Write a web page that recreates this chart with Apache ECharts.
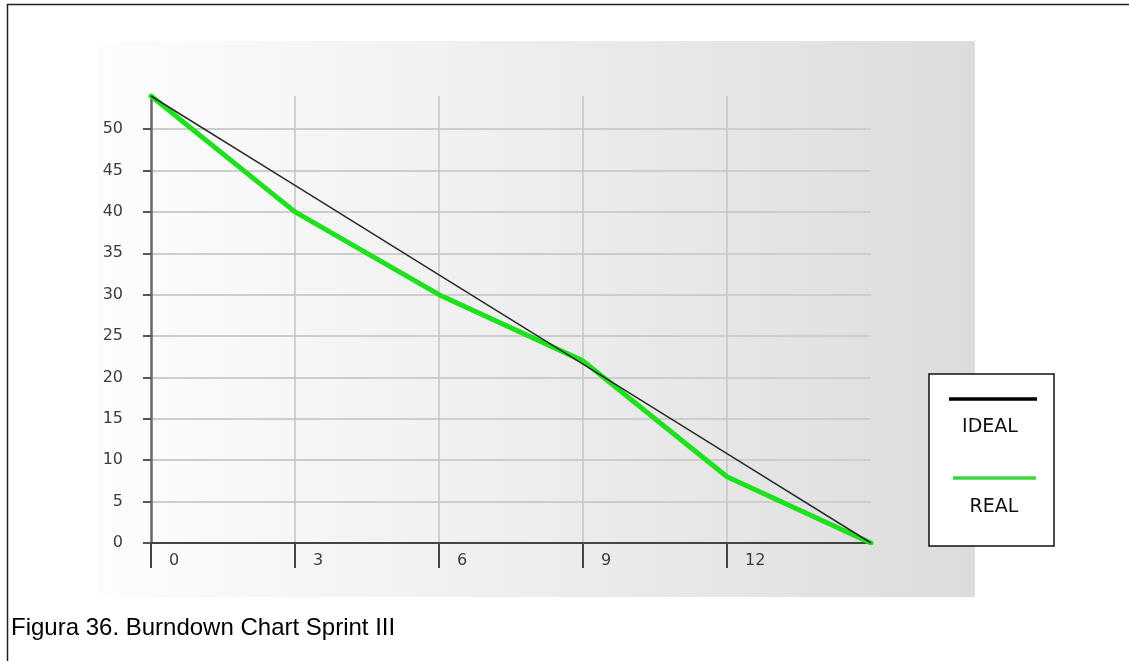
<!DOCTYPE html>
<html>
<head>
<meta charset="utf-8">
<script src="https://cdn.jsdelivr.net/npm/echarts@6/dist/echarts.min.js"></script>
<style>
html,body{margin:0;padding:0;background:#fff;}
#chart{width:1129px;height:661px;}
</style>
</head>
<body>
<div id="chart"></div>
<script>
// ---- data ----
const days = [0, 3, 6, 9, 12, 15];
const idealValues = [54, 43.2, 32.4, 21.6, 10.8, 0];
const realValues = [54, 40, 30, 22, 8, 0];
const xTickLabels = [0, 3, 6, 9, 12];
const yTickLabels = [0, 5, 10, 15, 20, 25, 30, 35, 40, 45, 50];
const seriesNames = ['IDEAL', 'REAL'];
const caption = 'Figura 36. Burndown Chart Sprint III';

const idealColor = '#2a2a2a';
const realColor = '#1fe01f';

const chart = echarts.init(document.getElementById('chart'), null, {renderer: 'canvas'});

const labelFont = {fontFamily: 'DejaVu Sans', fontSize: 16, color: '#3c3c3c'};

chart.setOption({
  animation: false,
  backgroundColor: '#ffffff',
  grid: {left: 151, right: 258, top: 96, bottom: 118, containLabel: false},
  xAxis: {
    type: 'value', min: 0, max: 15, interval: 3,
    axisLine: {show: true, lineStyle: {color: '#444', width: 2}},
    axisTick: {show: true, length: 25, customValues: xTickLabels, lineStyle: {color: '#444', width: 2}},
    axisLabel: Object.assign({customValues: xTickLabels, align: 'left', padding: [0, 0, 0, 18], margin: 10}, labelFont),
    splitLine: {show: true, showMinLine: false, showMaxLine: true, lineStyle: {color: '#c4c4c4', width: 1.5}}
  },
  yAxis: {
    type: 'value', min: 0, max: 54, interval: 5,
    axisLine: {show: true, lineStyle: {color: '#666', width: 2.5}},
    axisTick: {show: true, length: 8, customValues: yTickLabels, lineStyle: {color: '#555', width: 2}},
    axisLabel: Object.assign({customValues: yTickLabels, margin: 28}, labelFont),
    splitLine: {show: true, showMinLine: false, showMaxLine: true, lineStyle: {color: '#cdcdcd', width: 2}}
  },
  series: [
    {
      name: seriesNames[1], type: 'line', symbol: 'none', color: realColor,
      data: days.map((d, i) => [d, realValues[i]]),
      lineStyle: {color: realColor, width: 5, cap: 'round', join: 'round'}, z: 3
    },
    {
      name: seriesNames[0], type: 'line', symbol: 'none', color: idealColor,
      data: days.map((d, i) => [d, idealValues[i]]),
      lineStyle: {color: idealColor, width: 1.5}, z: 4
    }
  ],
  graphic: [
    {
      type: 'rect', z: -100, silent: true,
      shape: {x: 98, y: 41, width: 877, height: 556},
      style: {fill: new echarts.graphic.LinearGradient(0, 0, 1, 0, [
        {offset: 0, color: '#fdfdfd'},
        {offset: 0.45, color: '#efefef'},
        {offset: 1, color: '#dcdcdc'}
      ])}
    },
    {
      type: 'polyline', silent: true,
      shape: {points: [[7.5, 661], [7.5, 4.5], [1129, 4.5]]},
      style: {stroke: '#222', lineWidth: 1.5, fill: null}
    },
    {
      type: 'group', silent: true,
      children: [
        {type: 'rect', shape: {x: 929, y: 374, width: 125, height: 172},
         style: {fill: '#ffffff', stroke: '#111', lineWidth: 1.5}},
        {type: 'line', shape: {x1: 949, y1: 399, x2: 1037, y2: 399},
         style: {stroke: '#000', lineWidth: 3.5}},
        {type: 'text', style: {x: 990, y: 427, text: seriesNames[0], align: 'center', verticalAlign: 'middle',
          font: '19px "DejaVu Sans"', fill: '#111'}},
        {type: 'line', shape: {x1: 953, y1: 478, x2: 1036, y2: 478},
         style: {stroke: '#3bd83b', lineWidth: 3.5}},
        {type: 'text', style: {x: 994, y: 507, text: seriesNames[1], align: 'center', verticalAlign: 'middle',
          font: '19px "DejaVu Sans"', fill: '#111'}}
      ]
    },
    {
      type: 'text', silent: true,
      style: {x: 11, y: 628, text: caption, verticalAlign: 'middle',
        font: '24px "Liberation Sans", Arial, sans-serif', fill: '#000'}
    }
  ]
});
</script>
</body>
</html>
